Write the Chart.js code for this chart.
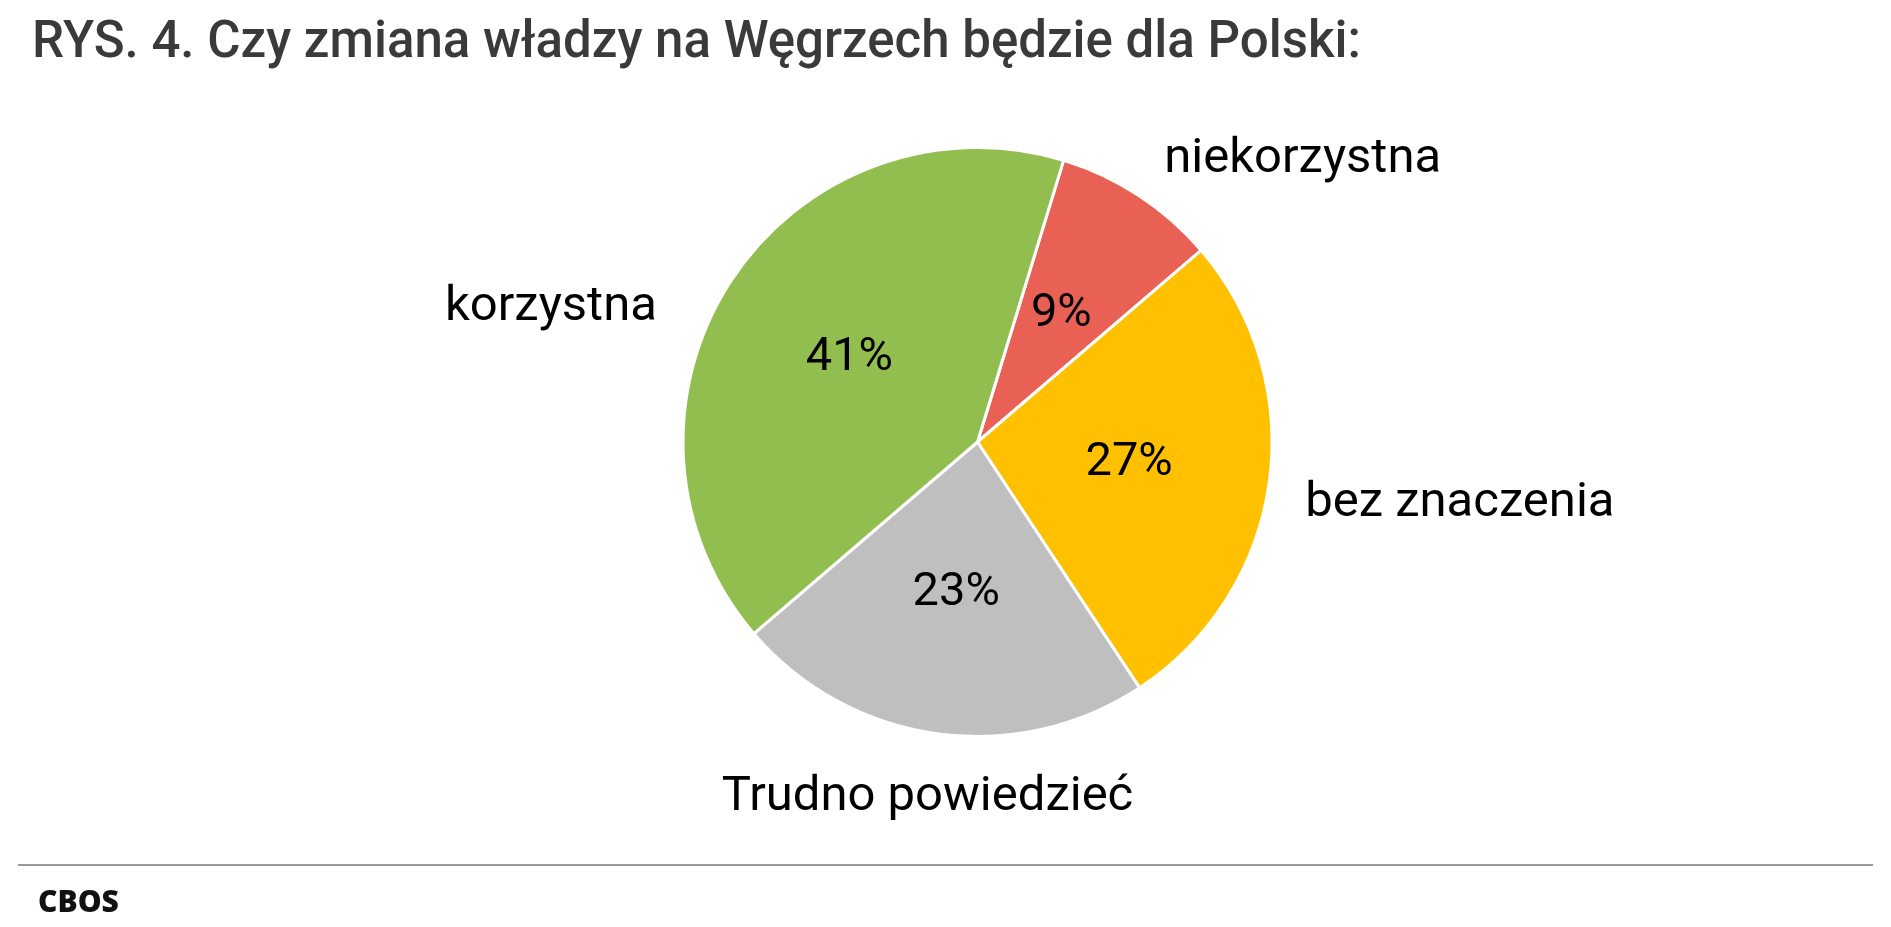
<!DOCTYPE html>
<html><head><meta charset="utf-8">
<script src="https://cdn.jsdelivr.net/npm/chart.js@4/dist/chart.umd.min.js"></script>
<style>
body{margin:0;width:1891px;height:927px;background:#fff;font-family:Roboto,sans-serif;overflow:hidden;position:relative}
#t{position:absolute;left:32px;top:10px;font-size:51px;font-weight:500;color:#3a3a3a}
#line{position:absolute;left:18px;right:18px;top:864px;border-top:2px solid #999}
#f{position:absolute;left:38px;top:880px;font-size:30px;font-weight:900;color:#111;font-family:"Open Sans",sans-serif}
#c{position:absolute;left:0;top:0}
</style></head><body>
<canvas id="c" width="1891" height="927"></canvas>
<div id="t">RYS. 4. Czy zmiana władzy na Węgrzech będzie dla Polski:</div>
<div id="line"></div>
<div id="f">CBOS</div>
<script>
const categories=["niekorzystna","bez znaczenia","Trudno powiedzieć","korzystna"];
const values=[9,27,23,41];
const colors=["#E96154","#FFC000","#BFBFBF","#92BE50"];
const nudge=[[-10,18],[-28,12],[0,0],[-20,62]];
const labelsPlugin={id:'lbl',afterDatasetsDraw(chart){
 const ctx=chart.ctx;const meta=chart.getDatasetMeta(0);
 ctx.save();ctx.fillStyle='#000';ctx.textBaseline='middle';
 meta.data.forEach((a,i)=>{
  const mid=(a.startAngle+a.endAngle)/2,R=a.outerRadius;
  ctx.textAlign='center';ctx.font='47px Roboto';
  ctx.fillText(values[i]+'%',a.x+Math.cos(mid)*R*0.52,a.y+Math.sin(mid)*R*0.52);
  const ox=a.x+Math.cos(mid)*R*1.22,oy=a.y+Math.sin(mid)*R*1.22;
  const c=Math.cos(mid);ctx.font='49px Roboto';
  ctx.textAlign=c>0.2?'left':(c<-0.2?'right':'center');
  ctx.fillText(categories[i],ox+nudge[i][0],oy+nudge[i][1]);
 });ctx.restore();}};
new Chart(document.getElementById('c'),{type:'pie',
 data:{labels:categories,datasets:[{data:values,backgroundColor:colors,borderColor:'#fff',borderWidth:3}]},
 options:{responsive:false,animation:false,rotation:17,
  layout:{padding:{top:146,bottom:189,left:64,right:0}},
  plugins:{legend:{display:false},tooltip:{enabled:false}}},
 plugins:[labelsPlugin]});
</script></body></html>
